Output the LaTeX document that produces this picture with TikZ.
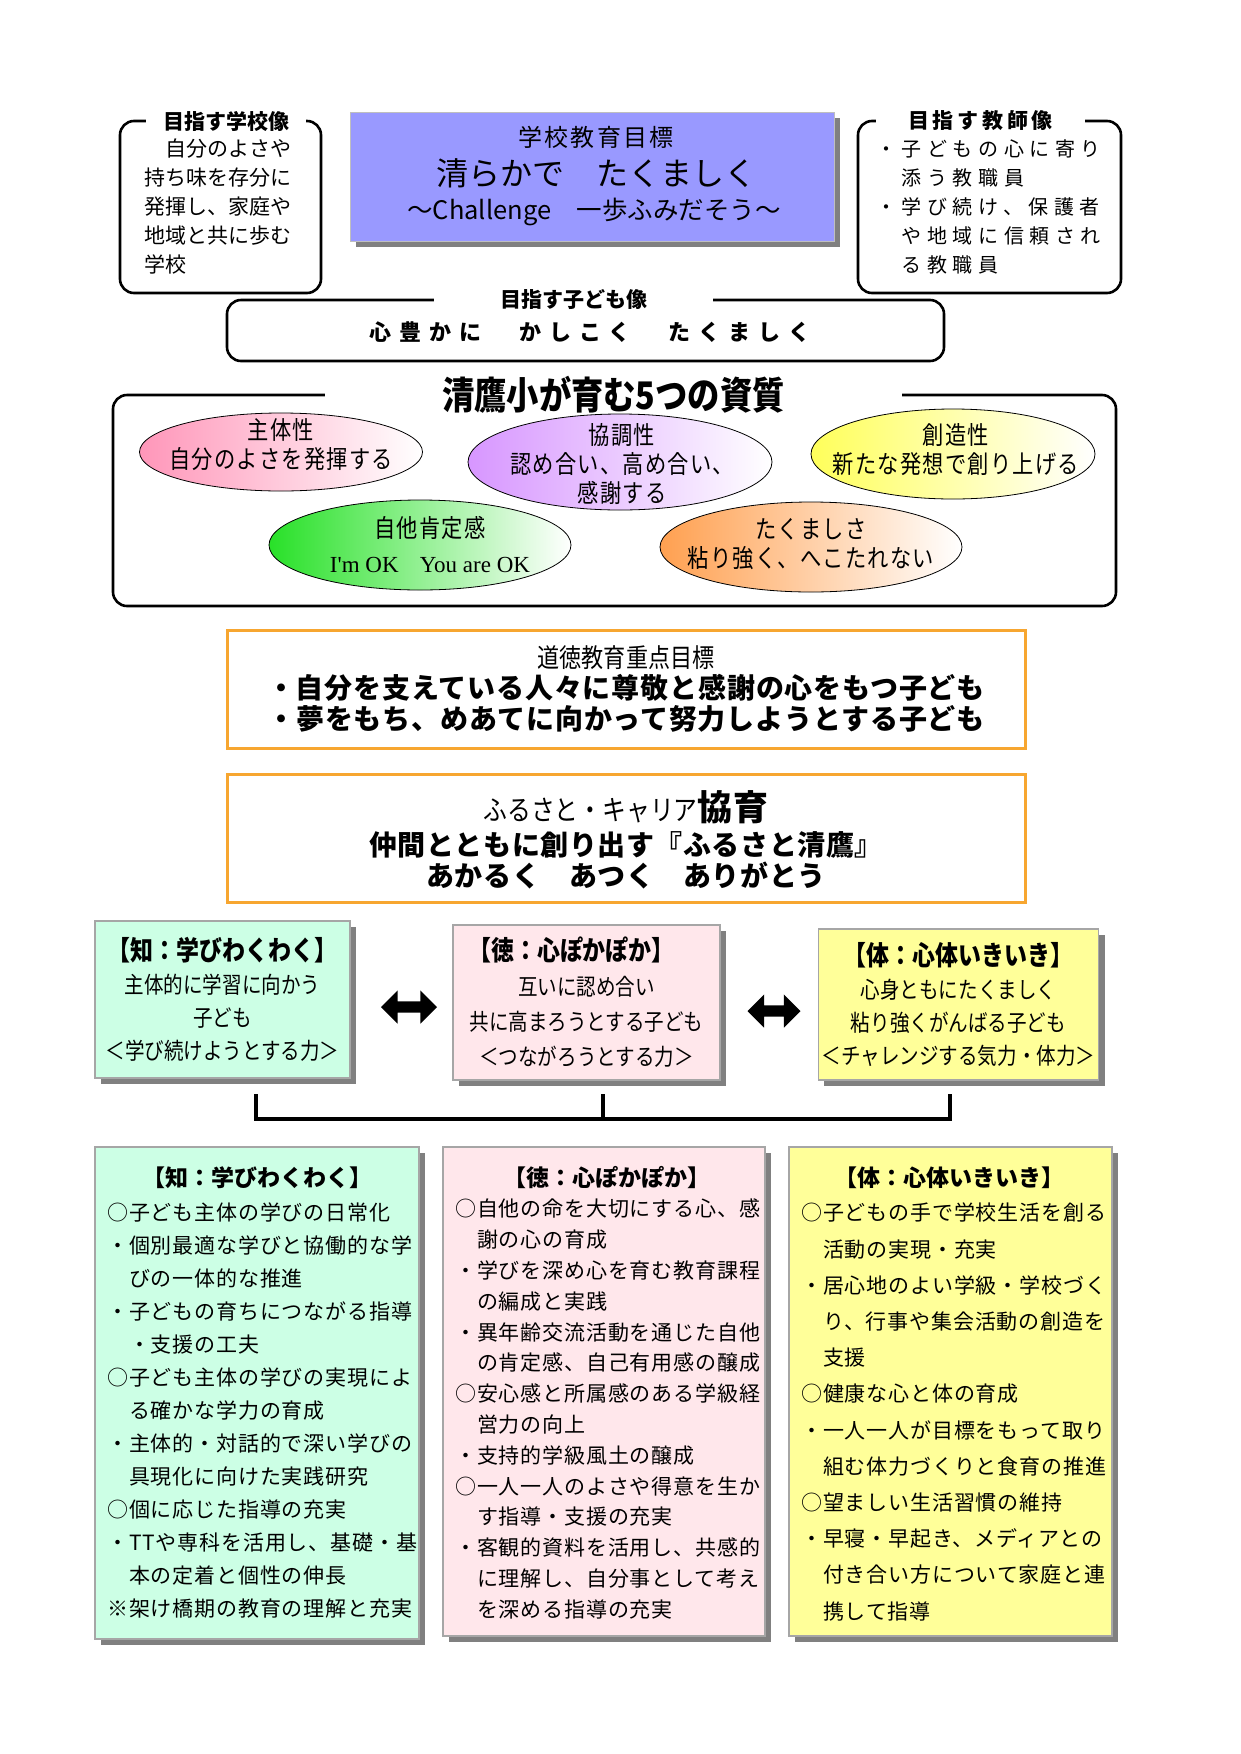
\documentclass[tikz,border=0pt]{standalone}
\usepackage{fontspec}
\setmainfont{Noto Sans CJK JP}
\newfontfamily\condfont[FakeStretch=0.85]{Noto Sans CJK JP}
\newfontfamily\seriffont{Liberation Serif}
\usetikzlibrary{shapes.geometric,shapes.arrows,shadows}

\definecolor{goalblue}{RGB}{153,153,255}
\definecolor{chimint}{RGB}{204,255,229}
\definecolor{tokupink}{RGB}{255,231,235}
\definecolor{taiyellow}{RGB}{255,255,153}
\definecolor{lineorange}{RGB}{247,166,48}
\definecolor{shadowgray}{RGB}{128,128,128}
\definecolor{shutaipink}{RGB}{255,150,185}
\definecolor{kyochopurple}{RGB}{215,150,255}
\definecolor{sozoyellow}{RGB}{255,255,90}
\definecolor{jitagreen}{RGB}{40,225,40}
\definecolor{takuorange}{RGB}{255,160,80}
\newcommand{\fsz}[2]{\fontsize{#1}{#2}\selectfont}

\begin{document}
\begin{tikzpicture}[x=1pt,y=-1pt,
  outline/.style={draw,line width=2.6pt,rounded corners=14pt},
  gaptitle/.style={fill=white,inner sep=1pt,font=\bfseries\fsz{21}{25}},
  quality/.style={ellipse,draw,line width=0.8pt,inner sep=0pt,right color=white,shading angle=60},
  qualitytext/.style={align=center,inner sep=0pt,font=\condfont\fsz{25}{29}\addfontfeature{LetterSpace=5}},
  orangebox/.style={draw=lineorange,line width=3pt},
  shadowbox/.style={draw=gray!70,line width=1.2pt,
    drop shadow={shadow xshift=6pt,shadow yshift=-6pt,fill=shadowgray,opacity=1}},
  midbox/.style={shadowbox,align=center,font=\condfont\fsz{23}{33}},
  blockarrow/.style={double arrow,fill=black,inner xsep=0pt,inner ysep=5.5pt,minimum width=33pt,
    double arrow head extend=11pt},
  listtext/.style={anchor=north west,align=left,inner sep=0pt,font=\fsz{21}{33}\addfontfeature{LetterSpace=4}}]

  \useasboundingbox (0,0) rectangle (1241,1754);

  \node[outline,minimum width=201pt,minimum height=172pt] (school) at (220.5,207) {};
  \node[gaptitle,minimum width=160pt] (schooltitle) at (226,121) {目指す学校像};
  \node[anchor=west,align=left,inner sep=0pt,font=\fsz{21}{29}] (schooltext) at (144,207)
    {　自分のよさや\\持ち味を存分に\\発揮し、家庭や\\地域と共に歩む\\学校};

  \node[fill=goalblue,draw=gray!50,minimum width=484pt,minimum height=129pt,
    drop shadow={shadow xshift=6pt,shadow yshift=-6pt,fill=shadowgray,opacity=1}] (goal) at (592,176.5) {};
  \node[font=\fsz{24}{28}\addfontfeature{LetterSpace=10}] (goalhead) at (596,137) {学校教育目標};
  \node[font=\fsz{32}{36}] (goalmain) at (596,173) {清らかで　たくましく};
  \node[font=\fsz{25.5}{28}] (goalsub) at (594,212) {～Challenge　一歩ふみだそう～};

  \node[outline,minimum width=263pt,minimum height=172pt] (teacher) at (989.5,207) {};
  \node[gaptitle,minimum width=209pt,font=\bfseries\fsz{21}{25}\addfontfeature{LetterSpace=18}] (teachertitle) at (980.5,121) {目指す教師像};
  \node[anchor=west,align=left,inner sep=0pt,font=\fsz{20}{29}\addfontfeature{LetterSpace=28}] (teachertext) at (876,207)
    {・子どもの心に寄り\\　添う教職員\\・学び続け、保護者\\　や地域に信頼され\\　る教職員};

  \node[outline,minimum width=717pt,minimum height=61pt] (child) at (585.5,330.5) {};
  \node[gaptitle,minimum width=279pt] (childtitle) at (573.5,300) {目指す子ども像};
  \node[font=\bfseries\fsz{22}{26}\addfontfeature{LetterSpace=36}] (childtext) at (590,332) {心豊かに　かしこく　たくましく};

  \node[outline,minimum width=1003pt,minimum height=211pt] (five) at (614.5,500.5) {};
  \node[gaptitle,minimum width=577pt,font=\condfont\bfseries\fsz{38}{40}] (fivetitle) at (613.5,395) {清鷹小が育む5つの資質};

  \node[quality,left color=shutaipink,minimum width=283pt,minimum height=78pt] (shutai) at (281,452) {};
  \node[qualitytext] (shutaitext) at (281,445) {主体性\\自分のよさを発揮する};
  \node[quality,left color=kyochopurple,minimum width=304pt,minimum height=96pt] (kyocho) at (620,462) {};
  \node[qualitytext] (kyochotext) at (622,464) {協調性\\認め合い、高め合い、\\感謝する};
  \node[quality,left color=sozoyellow,minimum width=284pt,minimum height=90pt] (sozo) at (953,454) {};
  \node[qualitytext] (sozotext) at (956,450) {創造性\\新たな発想で創り上げる};
  \node[quality,left color=jitagreen,minimum width=302pt,minimum height=90pt] (jita) at (420,545) {};
  \node[qualitytext] (jitatext) at (430,545)
    {自他肯定感\\[6pt]{\seriffont\fsz{23}{29}I'm OK}　{\seriffont\fsz{23}{29}You are OK}};
  \node[quality,left color=takuorange,minimum width=302pt,minimum height=90pt] (taku) at (811,547) {};
  \node[qualitytext] (takutext) at (811,544) {たくましさ\\粘り強く、へこたれない};

  \node[orangebox,minimum width=798pt,minimum height=118pt] (moral) at (626,689) {};
  \node[align=center,font=\bfseries\fsz{28}{31}\addfontfeature{LetterSpace=3}] (moraltext) at (626,689)
    {{\mdseries\condfont\fsz{26}{31}道徳教育重点目標}\\
     ・自分を支えている人々に尊敬と感謝の心をもつ子ども\\
     ・夢をもち、めあてに向かって努力しようとする子ども};

  \node[orangebox,minimum width=798pt,minimum height=128pt] (furusato) at (626,838) {};
  \node[align=center,font=\bfseries\fsz{28}{31}\addfontfeature{LetterSpace=2}] (furusatotext) at (626,840)
    {{\mdseries\condfont\fsz{28}{31}ふるさと・キャリア}{\fsz{35}{31}協育}\\[4pt]
     仲間とともに創り出す『ふるさと清鷹』\\
     あかるく　あつく　ありがとう};

  \node[midbox,fill=chimint,minimum width=255pt,minimum height=157pt] (midchi) at (222.5,999.5)
    {{\bfseries\fsz{27}{33}【知：学びわくわく】}\\主体的に学習に向かう\\子ども\\＜学び続けようとする力＞};
  \node[midbox,fill=tokupink,minimum width=267pt,minimum height=155pt,font=\condfont\fsz{23}{35}] (midtoku) at (586.5,1002.5)
    {{\bfseries\fsz{27}{35}【徳：心ぽかぽか】\hspace*{30pt}}\\互いに認め合い\\共に高まろうとする子ども\\＜つながろうとする力＞};
  \node[midbox,fill=taiyellow,minimum width=265pt,minimum height=151pt] (midtai) at (958.5,1004.5)
    {{\bfseries\fsz{27}{33}【体：心体いきいき】}\\心身ともにたくましく\\粘り強くがんばる子ども\\＜チャレンジする気力・体力＞};

  \node[blockarrow,minimum height=56pt] (arrowleft) at (409,1007) {};
  \node[blockarrow,minimum height=53pt] (arrowright) at (774,1011) {};

  \coordinate (bracketchi) at (256,1094);
  \coordinate (brackettoku) at (603,1094);
  \coordinate (brackettai) at (950,1094);
  \draw[line width=3.5pt] (bracketchi) -- ++(0,25) -| (brackettai);
  \draw[line width=3.5pt] (brackettoku) -- ++(0,25);

  \node[shadowbox,fill=chimint,minimum width=324pt,minimum height=492pt] (botchi) at (257,1393) {};
  \node[font=\bfseries\fsz{23}{27}] (botchititle) at (257,1178) {【知：学びわくわく】};
  \node[listtext] (botchitext) at (107,1203)
    {○子ども主体の学びの日常化\\
     ・個別最適な学びと協働的な学\\
     　びの一体的な推進\\
     ・子どもの育ちにつながる指導\\
     　・支援の工夫\\
     ○子ども主体の学びの実現によ\\
     　る確かな学力の育成\\
     ・主体的・対話的で深い学びの\\
     　具現化に向けた実践研究\\
     ○個に応じた指導の充実\\
     ・TTや専科を活用し、基礎・基\\
     　本の定着と個性の伸長\\
     ※架け橋期の教育の理解と充実};

  \node[shadowbox,fill=tokupink,minimum width=322pt,minimum height=489pt] (bottoku) at (604,1391.5) {};
  \node[font=\bfseries\fsz{23}{27}] (bottokutitle) at (607,1178) {【徳：心ぽかぽか】};
  \node[listtext,font=\fsz{21}{30.8}\addfontfeature{LetterSpace=4}] (bottokutext) at (455,1199)
    {○自他の命を大切にする心、感\\
     　謝の心の育成\\
     ・学びを深め心を育む教育課程\\
     　の編成と実践\\
     ・異年齢交流活動を通じた自他\\
     　の肯定感、自己有用感の醸成\\
     ○安心感と所属感のある学級経\\
     　営力の向上\\
     ・支持的学級風土の醸成\\
     ○一人一人のよさや得意を生か\\
     　す指導・支援の充実\\
     ・客観的資料を活用し、共感的\\
     　に理解し、自分事として考え\\
     　を深める指導の充実};

  \node[shadowbox,fill=taiyellow,minimum width=323pt,minimum height=489pt] (bottai) at (950.5,1391.5) {};
  \node[font=\bfseries\fsz{23}{27}] (bottaititle) at (949,1178) {【体：心体いきいき】};
  \node[listtext,font=\fsz{21}{36.2}\addfontfeature{LetterSpace=4}] (bottaitext) at (801,1203)
    {○子どもの手で学校生活を創る\\
     　活動の実現・充実\\
     ・居心地のよい学級・学校づく\\
     　り、行事や集会活動の創造を\\
     　支援\\
     ○健康な心と体の育成\\
     ・一人一人が目標をもって取り\\
     　組む体力づくりと食育の推進\\
     ○望ましい生活習慣の維持\\
     ・早寝・早起き、メディアとの\\
     　付き合い方について家庭と連\\
     　携して指導};
\end{tikzpicture}
\end{document}
